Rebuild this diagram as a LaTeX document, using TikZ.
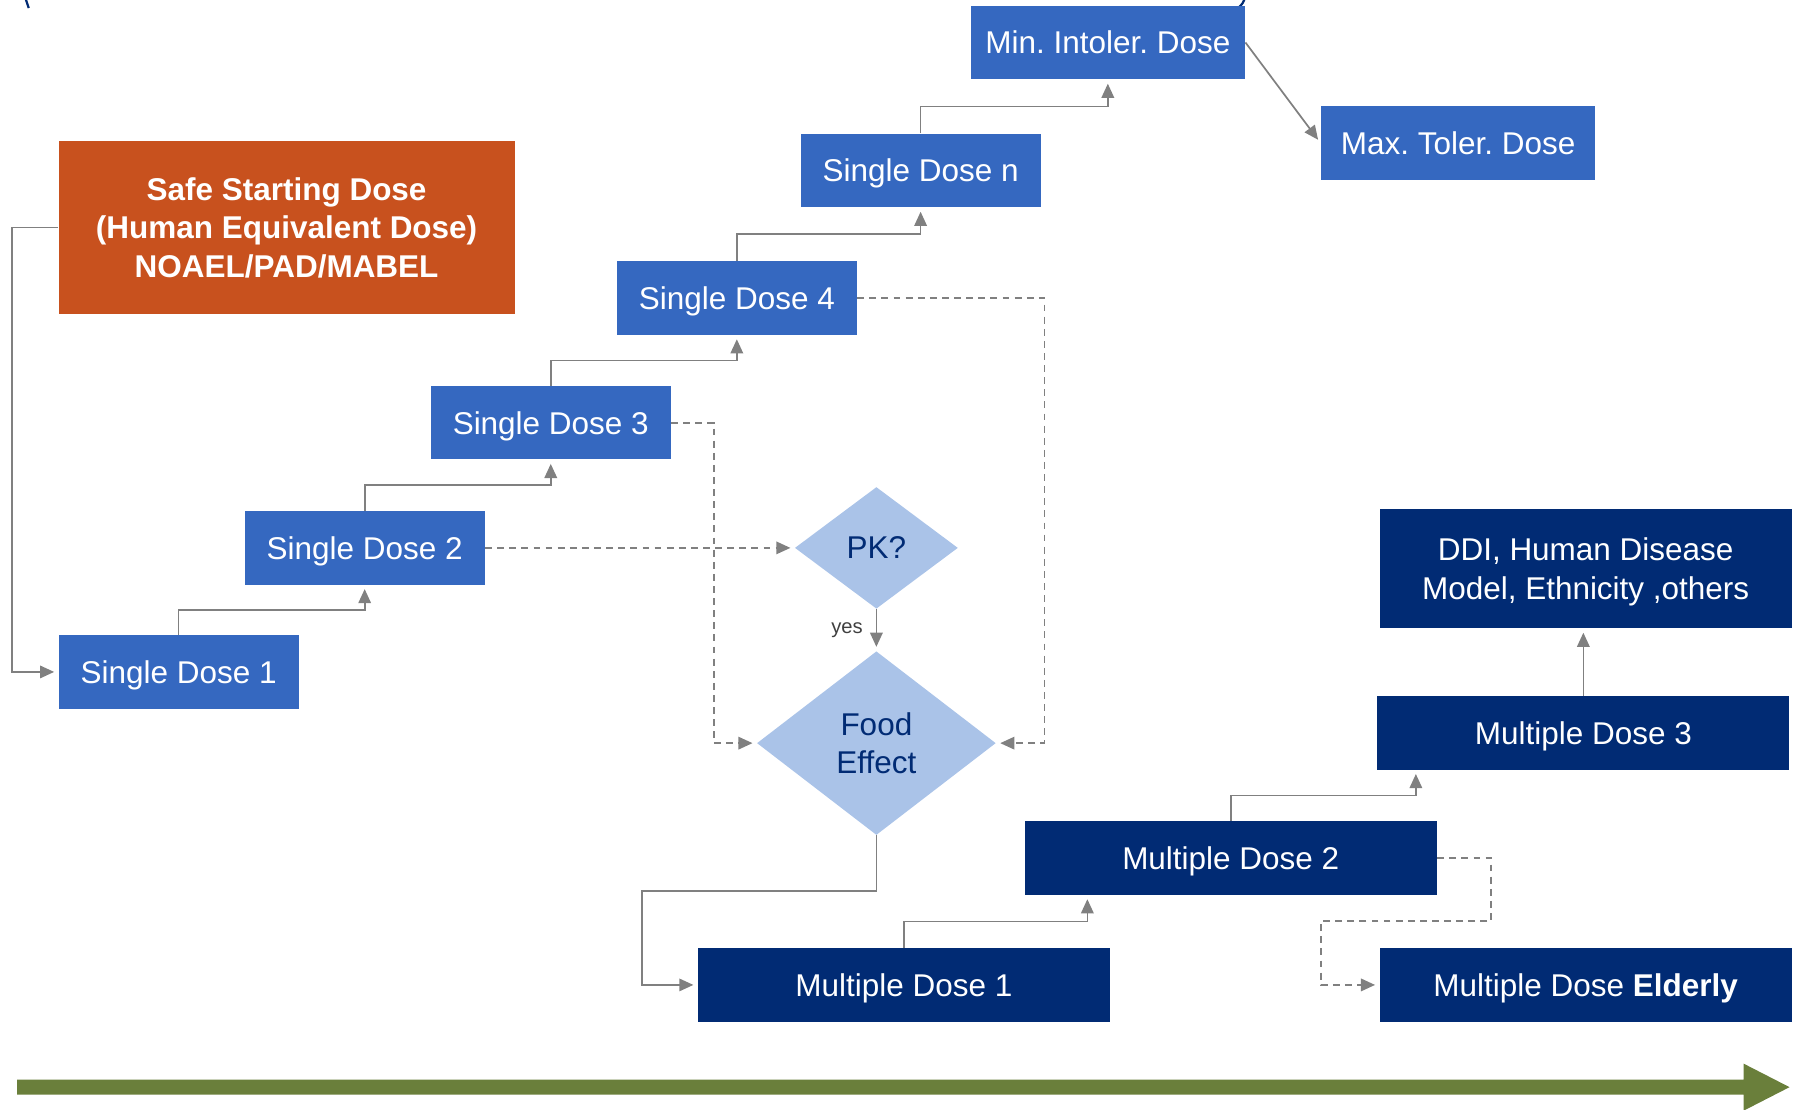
\documentclass[tikz,border=0pt]{standalone}
\usepackage{fontspec}
\setmainfont{Liberation Sans}
\frenchspacing
\definecolor{doseblue}{RGB}{53,104,192}
\definecolor{dosenavy}{RGB}{1,43,116}
\definecolor{startorange}{RGB}{200,81,30}
\definecolor{pkblue}{RGB}{170,195,232}
\definecolor{linegray}{RGB}{128,128,128}
\definecolor{yesgray}{RGB}{64,64,64}
\definecolor{timegreen}{RGB}{106,127,59}
\usetikzlibrary{arrows.meta,positioning,calc,shapes.geometric}

\begin{document}
\begin{tikzpicture}[x=0.02cm, y=-0.02cm,
      arr/.style={-{Triangle[length=7pt,width=6.2pt]}, line width=0.85pt, linegray, shorten >=2pt},
      dasharr/.style={arr, dash pattern=on 3.4pt off 2.6pt},
      single/.style={fill=doseblue, text=white, inner sep=0pt, align=center, text depth=0pt,
                     minimum width=4.18cm, minimum height=1.28cm,
                     font=\fontsize{15.6}{19}\selectfont},
      tolbox/.style={single, minimum width=4.78cm},
      multi/.style={single, fill=dosenavy, minimum width=7.18cm},
      check/.style={diamond, fill=pkblue, text=dosenavy, inner sep=0pt, align=center,
                    text depth=0pt, font=\fontsize{15.6}{19}\selectfont}
    ]
    \useasboundingbox (0,0) rectangle (1568,966);
    % cut-off bracket ends at the top
    \draw[dosenavy, line width=1.1pt] (22,-2) .. controls (23,3) .. (25,7);
    \draw[dosenavy, line width=1.1pt] (1084,-2) .. controls (1082,3) .. (1078,7);

    \node[single, fill=startorange, minimum width=7.94cm, minimum height=3cm,
          font=\fontsize{15.6}{19}\selectfont\bfseries] (safe) at (249.5,198)
      {Safe Starting Dose\\(Human Equivalent Dose)\\NOAEL/PAD/MABEL};

    \node[single] (sd1) at (155.5,585) {Single Dose 1};
    \node[single] (sd2) at (317.5,477) {Single Dose 2};
    \node[single] (sd3) at (479.5,368) {Single Dose 3};
    \node[single] (sd4) at (641.5,259.5) {Single Dose 4};
    \node[single] (sdn) at (801.5,148.5) {Single Dose n};
    \node[tolbox] (mintol) at (964.5,37) {Min. Intoler. Dose};
    \node[tolbox] (maxtol) at (1269.5,124.5) {Max. Toler. Dose};

    \node[check, minimum width=2.84cm, minimum height=2.12cm] (pk) at (763,477) {PK?};
    \node[check, minimum width=4.16cm, minimum height=3.2cm] (food) at (763,647) {Food\\Effect};

    \node[multi] (md1) at (787,857.5) {Multiple Dose 1};
    \node[multi] (md2) at (1071.5,747) {Multiple Dose 2};
    \node[multi] (md3) at (1378.5,638) {Multiple Dose 3};
    \node[multi, minimum height=2.08cm] (ddi) at (1380.5,495)
      {DDI, Human Disease\\Model, Ethnicity ,others};
    \node[multi] (mdold) at (1380.5,857.5) {Multiple Dose \textbf{Elderly}};

    \coordinate (c1) at (559,776);
    \coordinate (c2) at (1150,802);

    % escalation steps
    \draw[arr] (safe.west) -- ++(-40,0) |- (sd1.west);
    \draw[arr] (sd1.north) |- ($(sd1.north)!.5!(sd2.south)$) -| (sd2.south);
    \draw[arr] (sd2.north) |- ($(sd2.north)!.5!(sd3.south)$) -| (sd3.south);
    \draw[arr] (sd3.north) |- ($(sd3.north)!.5!(sd4.south)$) -| (sd4.south);
    \draw[arr] (sd4.north) |- ($(sd4.north)!.5!(sdn.south)$) -| (sdn.south);
    \draw[arr] (sdn.north) |- ($(sdn.north)!.5!(mintol.south)$) -| (mintol.south);
    \draw[arr] (mintol.east) -- (maxtol.west);

    % side studies
    \draw[dasharr] (sd2.east) -- (pk.west);
    \draw[dasharr] (sd3.east) -- ++(37,0) |- (food.west);
    \draw[dasharr] (sd4.east) -- ++(163,0) |- (food.east);
    \draw[arr] (pk.south) -- node[left, text=yesgray, font=\fontsize{10}{12}\selectfont, xshift=-3pt] {yes} (food.north);

    % multiple dose
    \draw[arr] (food.south) |- (c1) |- (md1.west);
    \draw[arr] (md1.north) |- ($(md1.north)!.5!(md2.south)$) -| ($(md2.south west)+(55,0)$);
    \draw[arr] (md2.north) |- ($(md2.north)!.5!(md3.south)$) -| ($(md3.south west)+(34,0)$);
    \draw[arr] (md3.north) -- (md3.north |- ddi.south);
    \draw[dasharr] (md2.east) -- ++(47,0) |- (c2) |- (mdold.west);

    % time axis
    \fill[timegreen] (15,940) -- (1518,940) -- (1518,926) -- (1558,946.5)
      -- (1518,967) -- (1518,953) -- (15,953) -- cycle;
  \end{tikzpicture}
\end{document}
